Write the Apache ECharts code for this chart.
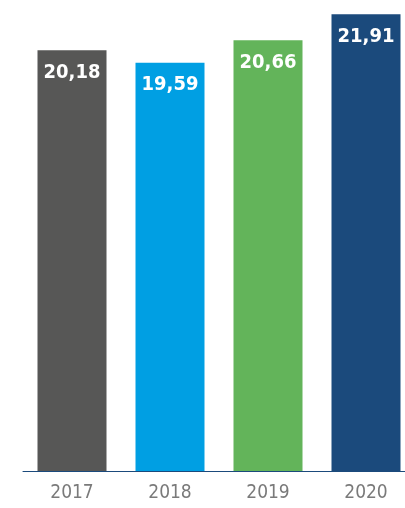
<!DOCTYPE html>
<html>
<head>
<meta charset="utf-8">
<script src="https://cdn.jsdelivr.net/npm/echarts@6/dist/echarts.min.js"></script>
<style>
  html, body { margin: 0; padding: 0; background: #ffffff; }
  #chart { width: 405px; height: 508px; }
</style>
</head>
<body>
<div id="chart"></div>
<script>
// Yearly values, one bar per year
const years = ['2017', '2018', '2019', '2020'];
const values = [20.18, 19.59, 20.66, 21.91];
const barColors = ['#575756', '#009fe3', '#63b45a', '#1b4a7c'];

const chart = echarts.init(document.getElementById('chart'), null, { renderer: 'canvas' });

const formatValue = v => v.toFixed(2).replace('.', ',');
const narrowFont = '"DejaVu Sans Condensed", "Liberation Sans Narrow", "Roboto", sans-serif';

chart.setOption({
  animation: false,
  grid: { left: 23, top: 2, bottom: 37, width: 392, containLabel: false, outerBoundsMode: 'none' },
  xAxis: {
    type: 'category',
    data: years,
    axisLine: { show: true, lineStyle: { color: '#1b4a7c', width: 1 } },
    axisTick: { show: false },
    axisLabel: {
      color: '#7a7a7a',
      fontFamily: narrowFont,
      fontSize: 19,
      margin: 13
    }
  },
  yAxis: {
    type: 'value',
    min: 0,
    max: 22.5,
    show: false,
    splitLine: { show: false }
  },
  series: [{
    type: 'bar',
    barWidth: 69,
    data: values.map((v, i) => ({ value: v, itemStyle: { color: barColors[i] } })),
    label: {
      show: true,
      position: 'insideTop',
      distance: 12,
      color: '#ffffff',
      fontFamily: narrowFont,
      fontWeight: 'bold',
      fontSize: 20,
      formatter: p => formatValue(p.value)
    }
  }]
});
</script>
</body>
</html>
